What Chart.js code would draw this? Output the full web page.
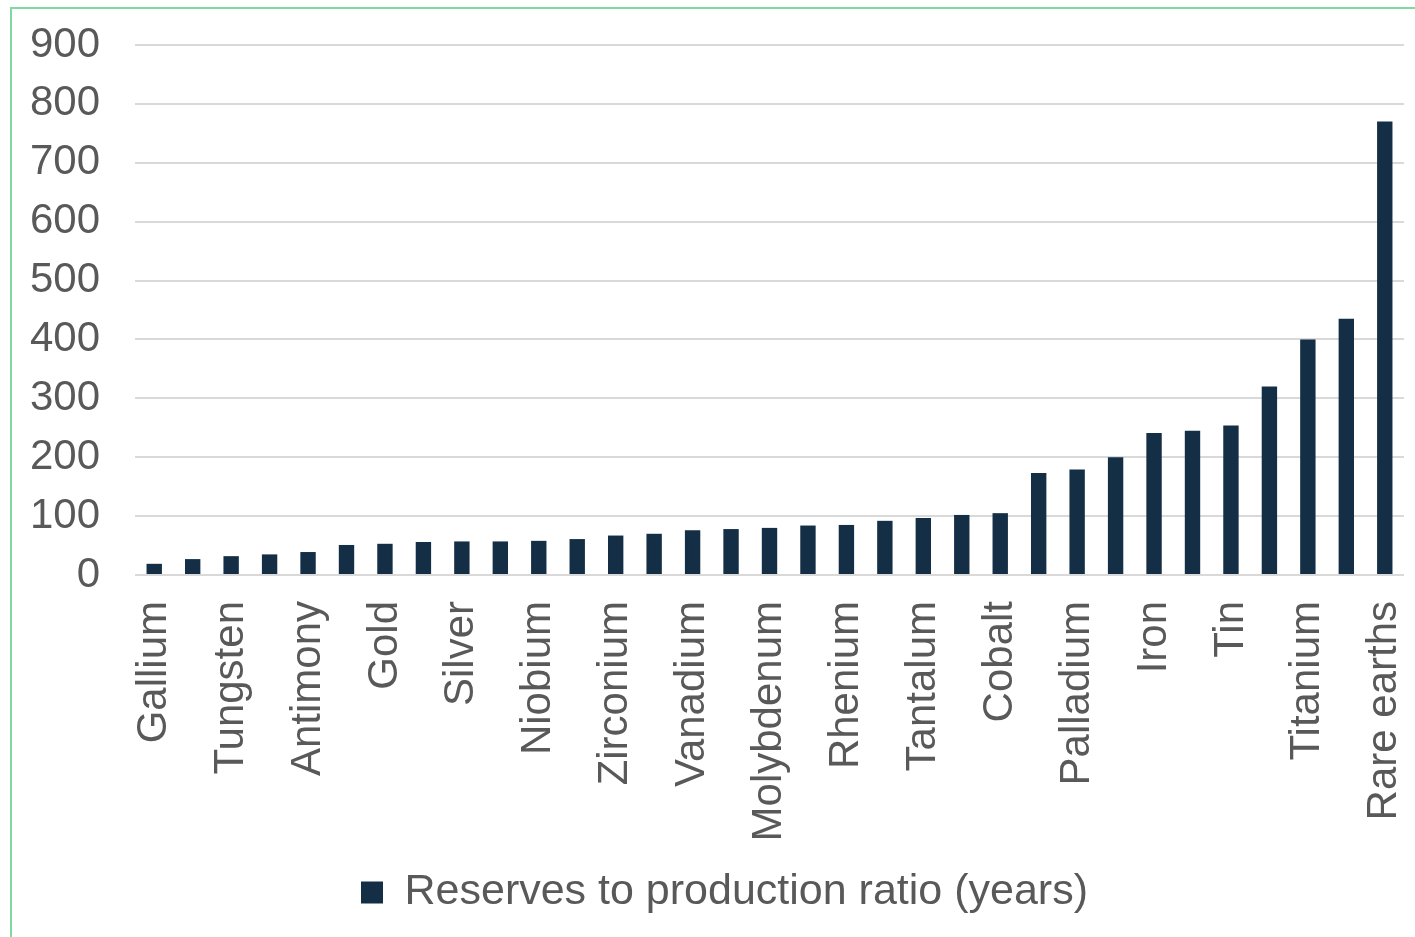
<!DOCTYPE html>
<html>
<head>
<meta charset="utf-8">
<script src="https://cdn.jsdelivr.net/npm/chart.js@4/dist/chart.umd.min.js"></script>
<style>
  html, body { margin: 0; padding: 0; background: #fff; overflow: hidden; }
  #frame {
    position: absolute; left: 10px; top: 7px;
    width: 1500px; height: 1000px;
    border-top: 2px solid #7fd9a0; border-left: 2px solid #7fd9a0;
  }
  #chart { position: absolute; left: 0; top: 0; }
</style>
</head>
<body>
<div id="frame"></div>
<canvas id="chart" width="1486" height="937"></canvas>
<script>
// only every other mineral gets a printed label on the axis
const minerals = [
  'Gallium', '', 'Tungsten', '', 'Antimony', '', 'Gold', '', 'Silver', '',
  'Niobium', '', 'Zirconium', '', 'Vanadium', '', 'Molybdenum', '', 'Rhenium', '',
  'Tantalum', '', 'Cobalt', '', 'Palladium', '', 'Iron', '', 'Tin', '',
  'Titanium', '', 'Rare earths'
];
const ratioYears = [
  19, 27, 32, 35, 39, 51, 53, 56, 57, 57,
  58, 61, 67, 70, 76, 78, 80, 84, 85, 92,
  97, 102, 105, 173, 179, 200, 241, 245, 254, 320,
  400, 435, 770
];
const seriesName = 'Reserves to production ratio (years)';
const yTicks = [0, 100, 200, 300, 400, 500, 600, 700, 800, 900];

const textGrey = '#595959';
const barBlue = '#132e45';
const fontFace = "'Liberation Sans', Arial, sans-serif";

// nudge the bottom legend a little to the right of the canvas centre
const legendNudge = {
    id: 'legendNudge',
    afterLayout: function (chart) {
        if (chart.legend) {
            chart.legend.left += 8;
            chart.legend.right += 8;
        }
    }
};

const ctx = document.getElementById('chart').getContext('2d');
const myChart = new Chart(ctx, {
    type: 'bar',
    data: {
        labels: minerals,
        datasets: [{
            label: seriesName,
            data: ratioYears,
            backgroundColor: barBlue,
            borderWidth: 0,
            barPercentage: 0.4,
            categoryPercentage: 1.0
        }]
    },
    plugins: [legendNudge],
    options: {
        responsive: false,
        animation: false,
        layout: {
            padding: { left: 29, right: 82, top: 45, bottom: 13 }
        },
        plugins: {
            tooltip: { enabled: false },
            legend: {
                position: 'bottom',
                labels: {
                    color: textGrey,
                    font: { family: fontFace, size: 43 },
                    boxWidth: 22,
                    boxHeight: 22,
                    padding: 10
                }
            }
        },
        scales: {
            x: {
                grid: { display: false },
                border: { display: false },
                afterFit: function (scale) { scale.height = 286; },
                ticks: {
                    autoSkip: false,
                    minRotation: 90,
                    maxRotation: 90,
                    padding: 18,
                    color: textGrey,
                    font: { family: fontFace, size: 42 }
                }
            },
            y: {
                min: yTicks[0],
                max: yTicks[yTicks.length - 1],
                afterFit: function (scale) {
                    // keep the plot top pinned by layout padding, not by tick padding
                    scale.width = 106;
                    scale.paddingTop = 0;
                    scale.paddingBottom = 0;
                },
                afterBuildTicks: function (scale) {
                    scale.ticks = yTicks.map(function (v) { return { value: v }; });
                },
                grid: { color: '#d9d9d9', lineWidth: 2, drawTicks: false },
                border: { display: false },
                ticks: {
                    padding: 35,
                    color: textGrey,
                    font: { family: fontFace, size: 42 }
                }
            }
        }
    }
});
</script>
</body>
</html>
